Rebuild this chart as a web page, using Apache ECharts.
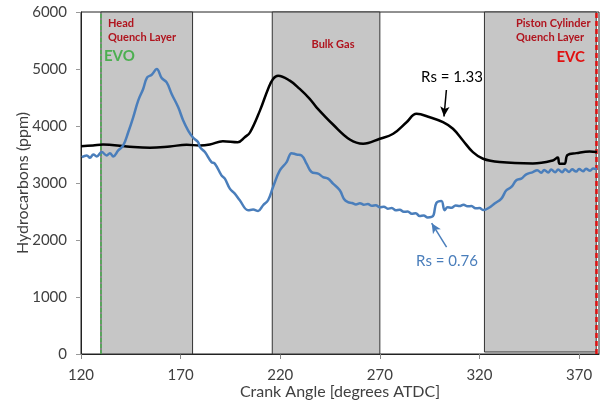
<!DOCTYPE html>
<html>
<head>
<meta charset="utf-8">
<script src="https://cdn.jsdelivr.net/npm/echarts@6/dist/echarts.min.js"></script>
<style>html,body{margin:0;padding:0;background:#fff;}#c{width:607px;height:403px;}</style>
</head>
<body>
<div id="c"></div>
<script>
// Crank angle [deg ATDC], hydrocarbons [ppm]
const rs133 = [
  [120,3646],[126,3658],[131,3676],[143,3641],[154.6,3618],[164.6,3641],[173,3671],[179.7,3658],
  [184.7,3676],[191.2,3734],[198.7,3716],[202.2,3804],[204.8,3886],[209.8,4270],[213.9,4650],
  [216.4,4825],[218.9,4882],[224.8,4795],[229.8,4650],[234.8,4475],[238.2,4328],[246.5,4026],
  [254.9,3763],[261.6,3688],[270,3776],[276.7,3863],[283.4,4066],[288.4,4213],[295.1,4153],
  [301.7,4066],[306.7,3951],[311.7,3746],[316.7,3542],[321.8,3426],[330.1,3367],[346.8,3344],
  [356.8,3396],[359.3,3449],[360.2,3339],[362.7,3339],[364.2,3493],[368.6,3524],[375.3,3554],[379,3542]
];
const rs076 = [
  [120.4,3454],[122.9,3484],[124.5,3444],[126.2,3502],[127.9,3466],[130.4,3542],[132.9,3484],
  [134.5,3524],[136.2,3466],[138.7,3571],[141.2,3659],[143.7,3891],[146.2,4153],[148.7,4445],
  [151.2,4650],[153.2,4853],[155.5,4900],[158,5000],[160.5,4842],[163,4765],[165.5,4562],
  [168.8,4328],[171.3,4096],[173.8,3921],[176.3,3793],[178.8,3716],[179.7,3629],[182.2,3542],
  [185.5,3367],[187.2,3339],[190.5,3134],[192.2,3077],[194.7,2902],[197.2,2814],[199.7,2697],
  [203.9,2522],[206.4,2535],[208.9,2510],[211.4,2610],[213.9,2697],[216.4,2930],[219.8,3221],
  [223.2,3367],[225.7,3524],[228.2,3501],[230.7,3484],[233.2,3339],[235.7,3192],[239,3164],
  [241.5,3104],[244,3077],[246.5,2989],[249.9,2872],[252,2720],[254,2665],[256,2650],
  [258,2625],[260,2645],[262,2620],[264,2630],[266,2600],[268,2610],[270,2575],[272,2585],
  [274,2550],[276,2560],[278,2520],[280,2530],[282,2495],[284,2500],[286,2460],[288,2470],
  [290,2420],[292,2430],[294,2395],[296,2405],[297,2440],[298.4,2650],[300.9,2685],[302.5,2522],
  [304,2575],[306,2565],[308,2605],[310,2595],[312,2620],[314,2590],[316,2595],[318,2555],
  [320,2560],[322,2525],[325,2570],[327.6,2640],[331,2727],[333.5,2872],[336,2930],
  [338.5,3047],[341,3077],[343.5,3152],[346.8,3192],[349,3225],[351,3180],[352.5,3230],
  [354.5,3185],[356,3235],[358,3190],[359.5,3235],[361.5,3190],[363,3240],[365,3195],
  [366.5,3240],[368.5,3200],[370,3245],[372,3205],[373.5,3250],[375.5,3215],[377,3255],[379,3240]
];
const xTicks = [120,170,220,270,320,370];
const bands = [[130,176,0],[216,270,0],[322.5,378.6,35]];
const evo = 129.7;
const evc = 378.6;

const chart = echarts.init(document.getElementById('c'));
const FONT = 'Lato';
const txt = (x,y,t,size,color,bold,align) => ({
  type:'text', x:x, y:y, z:100, zlevel:0,
  style:{text:t, font:(bold?'bold ':'')+size+'px '+FONT, fill:color, textAlign:align||'left', textVerticalAlign:'middle'}
});
chart.setOption({
  animation:false,
  grid:{left:81,right:8,top:12,bottom:49,show:true,borderColor:'#222',borderWidth:1,outerBoundsMode:'none',containLabel:false},
  xAxis:{type:'value',min:120,max:380,interval:50,
    name:'Crank Angle [degrees ATDC]',nameLocation:'middle',nameGap:30,nameMoveOverlap:false,
    nameTextStyle:{fontFamily:FONT,fontSize:16,color:'#404040'},
    axisLine:{lineStyle:{color:'#222',width:1}},
    axisTick:{show:true,length:5,lineStyle:{color:'#888'},customValues:xTicks},
    axisLabel:{fontFamily:FONT,fontSize:15,color:'#404040',margin:14,customValues:xTicks},
    splitLine:{show:false}},
  yAxis:{type:'value',min:0,max:6000,interval:1000,
    name:'Hydrocarbons (ppm)',nameLocation:'middle',nameGap:50,nameMoveOverlap:false,
    nameTextStyle:{fontFamily:FONT,fontSize:16,color:'#404040'},
    axisLine:{show:true,lineStyle:{color:'#222',width:1}},
    axisTick:{show:true,length:5,lineStyle:{color:'#999'}},
    axisLabel:{fontFamily:FONT,fontSize:15,color:'#404040',margin:14,formatter:v=>String(v)},
    splitLine:{show:false}},
  series:[
    {type:'line',data:[],z:1,silent:true,
      markArea:{silent:true,
        itemStyle:{color:'#c6c6c6',borderColor:'#333',borderWidth:1},
        data:bands.map(b=>[{xAxis:b[0],yAxis:b[2]},{xAxis:b[1],yAxis:6000}])},
      markLine:{silent:true,symbol:'none',label:{show:false},
        data:[
          {xAxis:evo,lineStyle:{color:'#4caf50',type:[4,2],width:1.5}},
          {xAxis:evc,lineStyle:{color:'#e01010',type:[5,3],width:2.5}}
        ]}},
    {name:'Rs = 1.33',type:'line',data:rs133,z:5,showSymbol:false,smooth:0.4,
      lineStyle:{color:'#000',width:2.5},
      markLine:{silent:true,symbol:['none','arrow'],symbolSize:[7,10],label:{show:false},
        lineStyle:{color:'#000',width:1.5,type:'solid'},
        data:[[{coord:[303.4,4632]},{coord:[302.2,4166]}]]}},
    {name:'Rs = 0.76',type:'line',data:rs076,z:6,showSymbol:false,smooth:0.4,
      lineStyle:{color:'#4a7ebb',width:2.5},
      markLine:{silent:true,symbol:['none','arrow'],symbolSize:[7,10],label:{show:false},
        lineStyle:{color:'#4a7ebb',width:1.5,type:'solid'},
        data:[[{coord:[303.5,1876]},{coord:[296.0,2295]}]]}}
  ],
  graphic:{elements:[
    txt(108,23,'Head',11,'#b0141e',true),
    txt(108,37,'Quench Layer',11,'#b0141e',true),
    txt(104,56,'EVO',15,'#4caf50',true),
    txt(333,44,'Bulk Gas',11,'#b0141e',true,'center'),
    txt(516,23,'Piston Cylinder',11,'#b0141e',true),
    txt(516,37,'Quench Layer',11,'#b0141e',true),
    txt(585,57,'EVC',15,'#e01010',true,'right'),
    txt(452,77,'Rs = 1.33',15,'#000',false,'center'),
    txt(447,261,'Rs = 0.76',15,'#4a7ebb',false,'center')
  ]}
});
</script>
</body>
</html>
